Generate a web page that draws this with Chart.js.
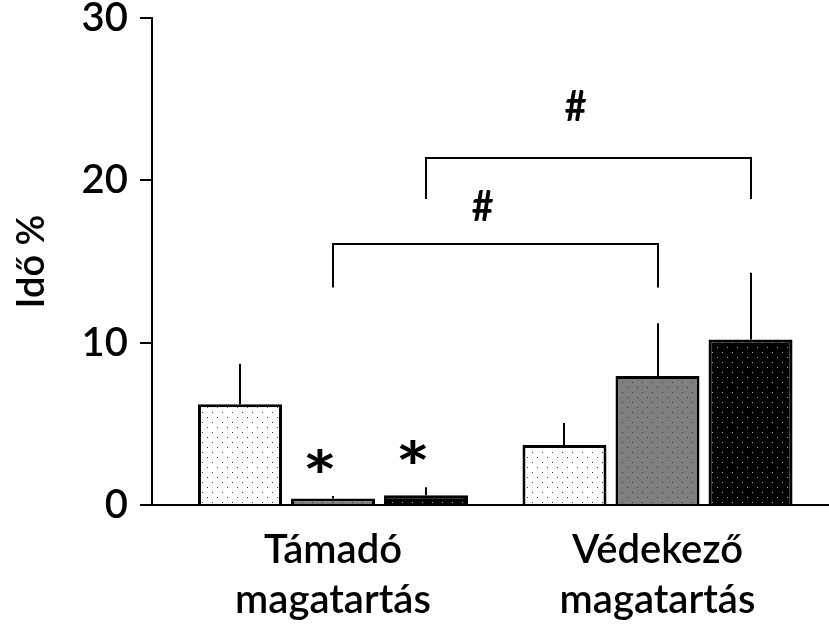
<!DOCTYPE html>
<html>
<head>
<meta charset="utf-8">
<script src="https://cdn.jsdelivr.net/npm/chart.js@4"></script>
<style>
  html, body { margin: 0; padding: 0; background: #fff; }
  #wrap { width: 829px; height: 629px; }
</style>
</head>
<body>
<div id="wrap"><canvas id="c" width="829" height="629"></canvas></div>
<script>
// ---- data ----
const categories = [['Támadó', 'magatartás'], ['Védekező', 'magatartás']];
const seriesNames = ['Kontroll', 'Csoport 2', 'Csoport 3'];
const series1 = [6.2, 3.7];
const series2 = [0.4, 7.95];
const series3 = [0.6, 10.2];
const errors1 = [2.5, 1.35];
const errors2 = [0.15, 3.25];
const errors3 = [0.5, 4.1];
const sigMarks1 = ['', ''];
const sigMarks2 = ['*', ''];
const sigMarks3 = ['*', ''];
const yTicks = [0, 10, 20, 30];
// brackets: [group, series] endpoints, top value, leg bottom value, label value
const bracketStart = [[0, 1], [0, 2]];
const bracketEnd = [[1, 1], [1, 2]];
const bracketTop = [16.1, 21.4];
const bracketLegBottom = [13.4, 18.85];
const bracketLabels = ['#', '#'];
const bracketLabelValue = [18.4, 24.6];
const yTitle = 'Idő %';

// ---- patterns ----
function dotPattern(bg, dot) {
  const c = document.createElement('canvas');
  c.width = 10; c.height = 10;
  const g = c.getContext('2d');
  g.fillStyle = bg; g.fillRect(0, 0, 10, 10);
  g.fillStyle = dot;
  g.fillRect(2, 2, 1, 1);
  g.fillRect(7, 7, 1, 1);
  return g.createPattern(c, 'repeat');
}
const fills = [
  dotPattern('#ffffff', '#3a3a3a'),
  dotPattern('#7f7f7f', '#3a3a3a'),
  dotPattern('#000000', '#b0b0b0')
];

const values = [series1, series2, series3];
const errors = [errors1, errors2, errors3];
const marks = [sigMarks1, sigMarks2, sigMarks3];

const FONT = 'Lato, "Open Sans", sans-serif';

// draw a glyph so its ink box is centred at (cx, cy) with given width/height
function drawGlyph(ctx, txt, cx, cy, w, h) {
  ctx.save();
  ctx.font = 'bold 100px ' + FONT;
  ctx.textAlign = 'left';
  ctx.textBaseline = 'alphabetic';
  const m = ctx.measureText(txt);
  const gw = m.actualBoundingBoxLeft + m.actualBoundingBoxRight;
  const gh = m.actualBoundingBoxAscent + m.actualBoundingBoxDescent;
  ctx.translate(cx, cy);
  ctx.scale(w / gw, h / gh);
  ctx.fillStyle = '#000';
  ctx.fillText(txt, -gw / 2 + m.actualBoundingBoxLeft, gh / 2 - m.actualBoundingBoxDescent);
  ctx.restore();
}

const annotPlugin = {
  id: 'annot',
  afterDatasetsDraw(chart) {
    const ctx = chart.ctx;
    const ys = chart.scales.y;
    ctx.save();
    ctx.strokeStyle = '#000';
    ctx.lineWidth = 2;
    ctx.lineCap = 'butt';
    // error bars + significance marks
    values.forEach((vals, d) => {
      const meta = chart.getDatasetMeta(d);
      vals.forEach((v, i) => {
        const el = meta.data[i];
        const x = Math.round(el.x);
        const top = ys.getPixelForValue(v + errors[d][i]);
        ctx.beginPath();
        ctx.moveTo(x, el.y);
        ctx.lineTo(x, top);
        ctx.stroke();
        if (marks[d][i]) {
          drawGlyph(ctx, marks[d][i], el.x - 13, top - 35, 27, 24);
        }
      });
    });
    // brackets
    bracketStart.forEach((s, k) => {
      const e = bracketEnd[k];
      const x1 = Math.round(chart.getDatasetMeta(s[1]).data[s[0]].x);
      const x2 = Math.round(chart.getDatasetMeta(e[1]).data[e[0]].x);
      const yt = Math.round(ys.getPixelForValue(bracketTop[k]));
      const yb = ys.getPixelForValue(bracketLegBottom[k]);
      ctx.beginPath();
      ctx.moveTo(x1, yb);
      ctx.lineTo(x1, yt);
      ctx.lineTo(x2, yt);
      ctx.lineTo(x2, yb);
      ctx.stroke();
      drawGlyph(ctx, bracketLabels[k], (x1 + x2) / 2 - 13, ys.getPixelForValue(bracketLabelValue[k]), 21, 30);
    });
    ctx.restore();
  }
};

new Chart(document.getElementById('c'), {
  type: 'bar',
  data: {
    datasets: values.map((vals, d) => ({
      label: seriesNames[d],
      data: vals.map((v, i) => ({ x: i, y: v })),
      backgroundColor: fills[d],
      borderColor: '#000',
      borderWidth: 3,
      categoryPercentage: 0.86,
      barPercentage: 0.903
    }))
  },
  options: {
    responsive: false,
    animation: false,
    devicePixelRatio: 1,
    layout: { padding: { top: 18, left: 0, right: 0, bottom: 0 } },
    plugins: { legend: { display: false }, tooltip: { enabled: false } },
    scales: {
      x: {
        type: 'linear',
        offset: false,
        min: -0.5578,
        max: 1.5285,
        afterBuildTicks: s => { s.ticks = categories.map((_, i) => ({ value: i })); },
        afterFit: s => { s.height = 124; s.paddingLeft = 0; s.paddingRight = 0; },
        grid: { display: false, drawTicks: false, offset: false },
        border: { display: true, color: '#000', width: 2 },
        ticks: {
          padding: 20,
          color: '#000',
          maxRotation: 0,
          autoSkip: false,
          font: { family: FONT, size: 40, weight: 600, lineHeight: 1.25 },
          callback: (v) => categories[v]
        }
      },
      y: {
        min: 0,
        max: 30,
        afterBuildTicks: s => { s.ticks = yTicks.map(v => ({ value: v })); },
        afterFit: s => { s.width = 152; s.paddingTop = 0; s.paddingBottom = 0; },
        grid: { display: true, drawOnChartArea: false, drawTicks: true, tickLength: 12, color: '#000', lineWidth: 2 },
        border: { display: true, color: '#000', width: 2 },
        ticks: {
          padding: 12,
          color: '#000',
          font: { family: FONT, size: 40, weight: 600 }
        },
        title: {
          display: true,
          text: yTitle,
          color: '#000',
          padding: { top: 9, bottom: 0 },
          font: { family: FONT, size: 38, weight: 600 }
        }
      }
    }
  },
  plugins: [annotPlugin]
});
</script>
</body>
</html>
